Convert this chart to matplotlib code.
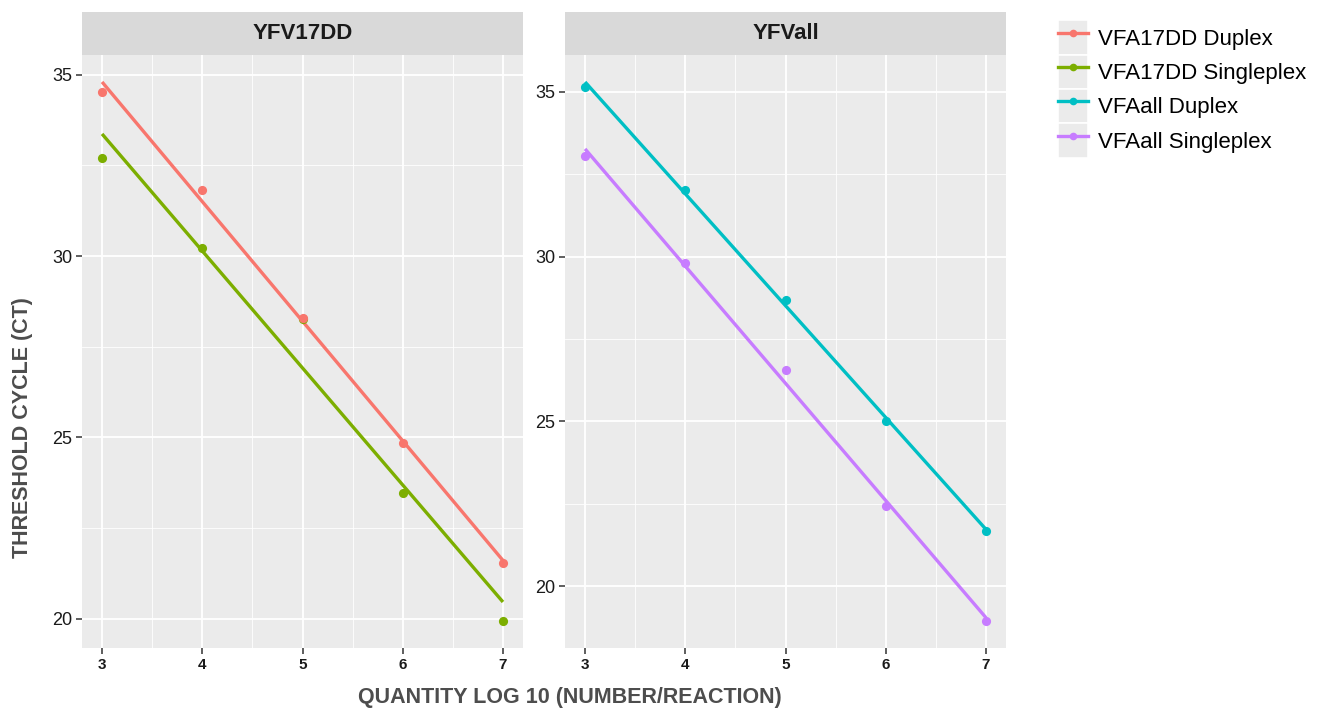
import numpy as np
import matplotlib
matplotlib.use('Agg')
import matplotlib.pyplot as plt
from matplotlib.lines import Line2D
from matplotlib.patches import Rectangle
from matplotlib.legend_handler import HandlerTuple
from matplotlib.ticker import MultipleLocator, FixedLocator

plt.rcParams['font.family'] = ['Liberation Sans', 'DejaVu Sans']

# ---------------- data ----------------
log_qty = [3, 4, 5, 6, 7]
panels = ['YFV17DD', 'YFVall']
series_names = ['VFA17DD Duplex', 'VFA17DD Singleplex', 'VFAall Duplex', 'VFAall Singleplex']
series_panel = ['YFV17DD', 'YFV17DD', 'YFVall', 'YFVall']
vfa17dd_duplex = [34.53, 31.82, 28.30, 24.84, 21.52]
vfa17dd_singleplex = [32.70, 30.21, 28.25, 23.47, 19.93]
vfaall_duplex = [35.15, 32.02, 28.67, 25.03, 21.69]
vfaall_singleplex = [33.04, 29.79, 26.57, 22.44, 18.95]
series_values = [vfa17dd_duplex, vfa17dd_singleplex, vfaall_duplex, vfaall_singleplex]
colors = ['#F8766D', '#7CAE00', '#00BFC4', '#C77CFF']
x_ticks = [3, 4, 5, 6, 7]
y_ticks = [20, 25, 30, 35]
x_title = 'QUANTITY LOG 10 (NUMBER/REACTION)'
y_title = 'THRESHOLD CYCLE (CT)'

W, H = 1317, 710
fig = plt.figure(figsize=(W / 100, H / 100), dpi=100)

def px_rect(x0, y0, x1, y1):
    return [x0 / W, 1 - y1 / H, (x1 - x0) / W, (y1 - y0) / H]

panel_boxes = [(82, 55, 523, 648), (565, 55, 1006, 648)]
strip_h = 43
panel_bg = '#EBEBEB'

for pi, pname in enumerate(panels):
    ax = fig.add_axes(px_rect(*panel_boxes[pi]))
    ax.set_facecolor(panel_bg)
    for s in ax.spines.values():
        s.set_visible(False)
    ys_all = []
    k = 0
    for name, pnl, vals, col in zip(series_names, series_panel, series_values, colors):
        if pnl != pname:
            continue
        x = np.array(log_qty, float)
        y = np.array(vals, float)
        slope, icpt = np.polyfit(x, y, 1)
        xf = np.array([min(x), max(x)])
        yf = slope * xf + icpt
        ys_all.extend(list(y) + list(yf))
        ax.plot(xf, yf, color=col, lw=2.4, solid_capstyle='butt', zorder=3)
        # duplex points drawn on top of singleplex points
        ax.plot(x, y, 'o', color=col, ms=6.6, mec='none', zorder=5 - k)
        k += 1
    lo, hi = min(ys_all), max(ys_all)
    pad = (hi - lo) * 0.05
    ax.set_ylim(lo - pad, hi + pad)
    ax.set_xlim(3 - 0.2, 7 + 0.2)
    ax.xaxis.set_major_locator(FixedLocator(x_ticks))
    ax.yaxis.set_major_locator(FixedLocator(y_ticks))
    ax.xaxis.set_minor_locator(MultipleLocator(0.5))
    ax.yaxis.set_minor_locator(MultipleLocator(2.5))
    ax.grid(which='major', color='white', lw=1.3, zorder=0)
    ax.grid(which='minor', color='white', lw=0.6, zorder=0)
    ax.set_axisbelow(True)
    ax.tick_params(axis='both', which='minor', length=0)
    ax.tick_params(axis='both', which='major', length=4, width=1.1, color='#333333', pad=3)
    ax.tick_params(axis='y', labelsize=13, labelcolor='#1A1A1A')
    ax.tick_params(axis='x', labelsize=11, labelcolor='#1A1A1A')
    for lab in ax.get_xticklabels():
        lab.set_fontweight('bold')
    # facet strip
    ph = panel_boxes[pi][3] - panel_boxes[pi][1]
    ax.add_patch(Rectangle((0, 1), 1, strip_h / ph,
                           transform=ax.transAxes, facecolor='#D9D9D9', edgecolor='none',
                           clip_on=False, zorder=1))
    ax.text(0.5, 1 + strip_h / 2 / ph, pname,
            transform=ax.transAxes, ha='center', va='center', fontsize=16,
            fontweight='bold', color='#1A1A1A')

# axis titles
fig.text(570 / W, 1 - 698 / H, x_title, ha='center', va='center', fontsize=15.5,
         fontweight='bold', color='#4D4D4D')
fig.text(23 / W, 1 - 428 / H, y_title, ha='center', va='center', rotation=90,
         fontsize=15.5, fontweight='bold', color='#4D4D4D')

# legend
handles = []
for col in colors:
    bg = Rectangle((0, 0), 1, 1, facecolor='#EBEBEB', edgecolor='white', lw=1.2)
    ln = Line2D([], [], color=col, lw=2.4, marker='o', ms=5.5, mec='none')
    handles.append((bg, ln))
fig.legend(handles, series_names, handler_map={tuple: HandlerTuple(ndivide=1, pad=0)},
           loc='upper left', bbox_to_anchor=(1054 / W, 1 - 16 / H), frameon=False,
           fontsize=16, handlelength=1.35, handleheight=2.0, labelspacing=0.0,
           handletextpad=0.45, borderaxespad=0, borderpad=0.2)

fig.savefig('out.png', dpi=100, facecolor='white')
